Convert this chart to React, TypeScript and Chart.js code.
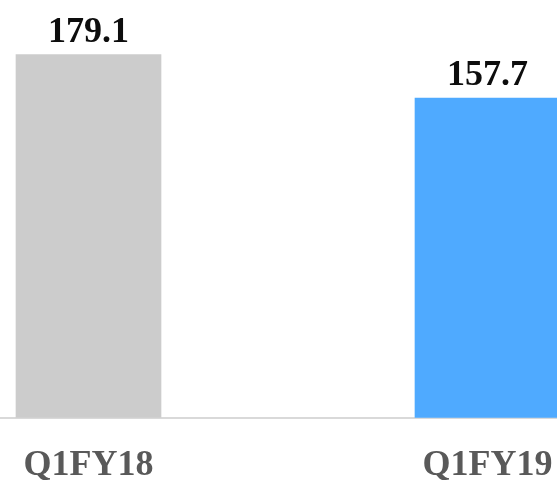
import React, { useEffect, useRef } from "react";
import { Chart, registerables } from "chart.js";

Chart.register(...registerables);

const categories: string[] = ["Q1FY18", "Q1FY19"];
const values: number[] = [179.1, 157.7];
const barColors: string[] = ["#CCCCCC", "#4FAAFF"];
const valueLabels: string[] = ["179.1", "157.7"];
const yMax = 206;

const FONT = "'Liberation Serif', 'Times New Roman', serif";

const valueLabelPlugin = {
  id: "valueLabels",
  afterDatasetsDraw(chart: any) {
    const ctx = chart.ctx;
    const meta = chart.getDatasetMeta(0);
    ctx.save();
    ctx.font = `bold 36px ${FONT}`;
    ctx.fillStyle = "#0D0D0D";
    ctx.textAlign = "center";
    ctx.textBaseline = "alphabetic";
    meta.data.forEach((bar: any, i: number) => {
      ctx.fillText(valueLabels[i], bar.x, bar.y - 13);
    });
    ctx.restore();
  },
};

export default function App() {
  const ref = useRef<HTMLCanvasElement | null>(null);
  useEffect(() => {
    if (!ref.current) return;
    const chart = new Chart(ref.current, {
      type: "bar",
      data: {
        labels: categories,
        datasets: [
          {
            data: values,
            backgroundColor: barColors,
            borderWidth: 0,
            barThickness: 145,
          },
        ],
      },
      options: {
        animation: false,
        responsive: false,
        maintainAspectRatio: false,
        layout: { padding: 0 },
        plugins: { legend: { display: false }, tooltip: { enabled: false } },
        scales: {
          x: {
            offset: true,
            grid: { display: false, drawTicks: false },
            border: { display: true, color: "#D9D9D9", width: 2 },
            ticks: {
              color: "#595959",
              padding: 26,
              font: { family: FONT, size: 36, weight: "bold" },
            },
          },
          y: {
            display: false,
            min: 0,
            max: yMax,
          },
        },
      },
      plugins: [valueLabelPlugin],
    });
    return () => chart.destroy();
  }, []);
  return (
    <div
      style={{
        position: "absolute",
        left: 0,
        top: 0,
        width: 557,
        height: 482,
        overflow: "hidden",
        background: "#fff",
      }}
    >
      <canvas
        ref={ref}
        width={798}
        height={513}
        style={{ position: "absolute", left: -111, top: 0, width: 798, height: 513 }}
      />
    </div>
  );
}
